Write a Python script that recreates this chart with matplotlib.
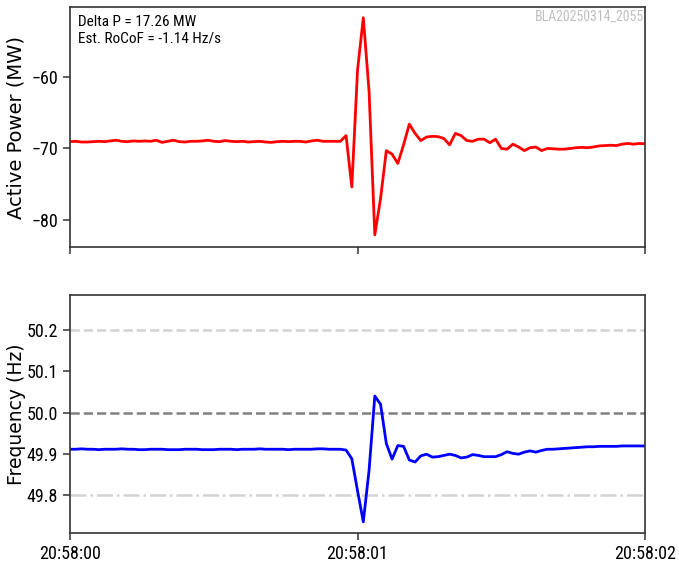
import numpy as np
import pandas as pd
import matplotlib
matplotlib.use("Agg")
import matplotlib.pyplot as plt
import matplotlib.dates as mdates
from matplotlib import font_manager

# PMU samples, 20 ms apart, starting 20:58:00
start = "2025-03-14 20:58:00"
sample_ms = 20

power_mw = [
    -69.05, -69.0, -69.1, -69.1, -69.05, -69.0, -69.05, -68.95, -68.85, -69.0,
    -69.05, -68.95, -69.0, -68.95, -69.0, -68.85, -69.15, -69.0, -68.85, -69.05,
    -69.1, -69.0, -69.0, -68.95, -68.85, -69.0, -69.05, -68.9, -69.0, -69.05,
    -69.0, -69.1, -69.05, -69.0, -69.1, -69.15, -69.05, -69.0, -69.05, -69.0,
    -69.0, -69.1, -68.95, -68.85, -69.0, -69.0, -69.0, -69.0, -68.2, -75.4,
    -59.0, -51.7, -62.0, -82.1, -77.0, -70.3, -70.8, -72.1, -69.5, -66.6,
    -67.9, -68.9, -68.4, -68.3, -68.35, -68.6, -69.5, -67.9, -68.2, -68.9,
    -69.0, -68.7, -68.7, -69.2, -68.7, -70.0, -70.1, -69.4, -69.8, -70.3,
    -69.9, -69.8, -70.3, -70.0, -70.05, -70.1, -70.1, -70.0, -69.9, -69.85,
    -69.9, -69.8, -69.65, -69.6, -69.55, -69.6, -69.4, -69.3, -69.4, -69.3,
    -69.35,
]

freq_hz = [
    49.911, 49.911, 49.912, 49.911, 49.911, 49.910, 49.911, 49.911, 49.911, 49.912,
    49.911, 49.911, 49.910, 49.910, 49.911, 49.911, 49.911, 49.910, 49.910, 49.910,
    49.911, 49.911, 49.911, 49.910, 49.910, 49.910, 49.911, 49.911, 49.911, 49.910,
    49.911, 49.911, 49.911, 49.912, 49.911, 49.911, 49.911, 49.911, 49.910, 49.911,
    49.911, 49.911, 49.911, 49.912, 49.912, 49.911, 49.911, 49.911, 49.909, 49.888,
    49.810, 49.735, 49.860, 50.040, 50.020, 49.925, 49.887, 49.920, 49.918, 49.885,
    49.880, 49.895, 49.899, 49.892, 49.893, 49.896, 49.899, 49.896, 49.890, 49.892,
    49.898, 49.896, 49.893, 49.893, 49.893, 49.898, 49.905, 49.901, 49.899, 49.904,
    49.907, 49.904, 49.908, 49.911, 49.911, 49.912, 49.913, 49.914, 49.915, 49.916,
    49.917, 49.917, 49.918, 49.918, 49.918, 49.918, 49.919, 49.919, 49.919, 49.919,
    49.919,
]

nominal = 50.0
band = [50.2, 49.8]
delta_p = 17.26
rocof = -1.14
tag = "BLA20250314_2055"

# the reference text is narrow, use a condensed face if there is one
fonts = font_manager.fontManager.ttflist
narrow = dict(family="DejaVu Sans")
found = False
for name in ["Liberation Sans Narrow", "Roboto Condensed", "DejaVu Sans Condensed", "Open Sans Condensed"]:
    if any(f.name == name for f in fonts):
        narrow = dict(family=name)
        found = True
        break
if not found and any(f.name == "DejaVu Sans" and "condensed" in str(f.stretch) for f in fonts):
    narrow = dict(family="DejaVu Sans", stretch="condensed")
    found = True
tick_size = 13 if found else 11
note_size = 11 if found else 9.5

t = pd.Timestamp(start) + pd.to_timedelta(np.arange(len(power_mw)) * sample_ms, unit="ms")

fig = plt.figure(figsize=(6.79, 5.64), dpi=100)
ax1 = fig.add_axes([0.1031, 0.562, 0.847, 0.4256])
ax2 = fig.add_axes([0.1031, 0.055, 0.847, 0.422], sharex=ax1)

ax1.plot(t, power_mw, color="red", lw=2)
ax1.set_ylabel("Active Power (MW)", fontsize=14)
ax1.set_ylim(-83.8, -50.2)
ax1.set_yticks([-80, -70, -60])
ax1.text(0.014, 0.965, "Delta P = %.2f MW\nEst. RoCoF = %.2f Hz/s" % (delta_p, rocof),
         transform=ax1.transAxes, ha="left", va="top", fontsize=note_size,
         linespacing=1.2, **narrow)
ax1.text(0.999, 0.99, tag, transform=ax1.transAxes, ha="right", va="top",
         fontsize=10, color="#c0c0c0", **narrow)
ax1.tick_params(labelbottom=False)

ax2.axhline(band[0], color="lightgray", ls="--", lw=1.8)
ax2.axhline(nominal, color="gray", ls="--", lw=1.8)
ax2.axhline(band[1], color="lightgray", ls="-.", lw=1.8)
ax2.plot(t, freq_hz, color="blue", lw=2)
ax2.set_ylabel("Frequency (Hz)", fontsize=13.5)
ax2.set_ylim(49.708, 50.285)
ax2.set_yticks([49.8, 49.9, 50.0, 50.1, 50.2])

ax2.set_xlim(t[0], t[-1])
ax2.xaxis.set_major_locator(mdates.SecondLocator())
ax2.xaxis.set_major_formatter(mdates.DateFormatter("%H:%M:%S"))

for ax in (ax1, ax2):
    ax.yaxis.set_label_coords(-0.077, 0.5)
    ax.tick_params(length=5, width=1.1, color="#333333")
    for lab in ax.get_xticklabels() + ax.get_yticklabels():
        lab.set_fontproperties(font_manager.FontProperties(size=tick_size, **narrow))
    for s in ax.spines.values():
        s.set_color("#333333")
        s.set_linewidth(1.2)

fig.savefig("out.png", dpi=100)
